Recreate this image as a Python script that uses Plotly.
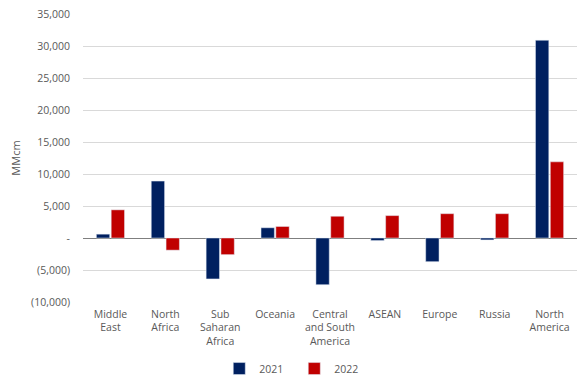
import plotly.graph_objects as go

categories = ["Middle<br>East", "North<br>Africa", "Sub<br>Saharan<br>Africa", "Oceania",
              "Central<br>and South<br>America", "ASEAN", "Europe", "Russia", "North<br>America"]
values_2021 = [600, 8900, -6400, 1600, -7300, -400, -3700, -300, 30900]
values_2022 = [4400, -1900, -2600, 1800, 3400, 3500, 3800, 3800, 11900]
tick_vals = [-10000, -5000, 0, 5000, 10000, 15000, 20000, 25000, 30000, 35000]
tick_text = ["(10,000)", "(5,000)", "-", "5,000", "10,000", "15,000", "20,000", "25,000", "30,000", "35,000"]

font = "Open Sans, Liberation Sans, sans-serif"
grey = "#595959"

fig = go.Figure()
fig.add_trace(go.Bar(name="2021", x=categories, y=values_2021, marker_color="#002060"))
fig.add_trace(go.Bar(name="2022", x=categories, y=values_2022, marker_color="#C00000"))

fig.update_layout(
    width=577, height=378,
    margin=dict(l=83, r=0, t=14, b=76, autoexpand=False),
    paper_bgcolor="white", plot_bgcolor="white",
    barmode="group", bargap=0.46, bargroupgap=0.1,
    font=dict(family=font, size=10.5, color=grey),
    legend=dict(orientation="h", xref="container", yref="container",
                x=0.51, xanchor="center", y=0.025, yanchor="middle",
                font=dict(size=10.5, color=grey), itemwidth=30, tracegroupgap=0,
                entrywidth=30, entrywidthmode="pixels"),
    showlegend=True,
)
fig.update_xaxes(showgrid=False, ticks="", tickfont=dict(size=10.5, color=grey), tickangle=0,
                 ticklabelstandoff=4)
fig.update_yaxes(range=[-10000, 35000], tickvals=tick_vals, ticktext=tick_text,
                 showgrid=True, gridcolor="#d9d9d9", gridwidth=1,
                 zeroline=True, zerolinecolor="#7f7f7f", zerolinewidth=1,
                 tickfont=dict(size=10.5, color=grey), ticks="", ticklabelstandoff=12,
                 title=dict(text="MMcm", font=dict(size=11, color=grey), standoff=8))

fig.write_html("out.html")
